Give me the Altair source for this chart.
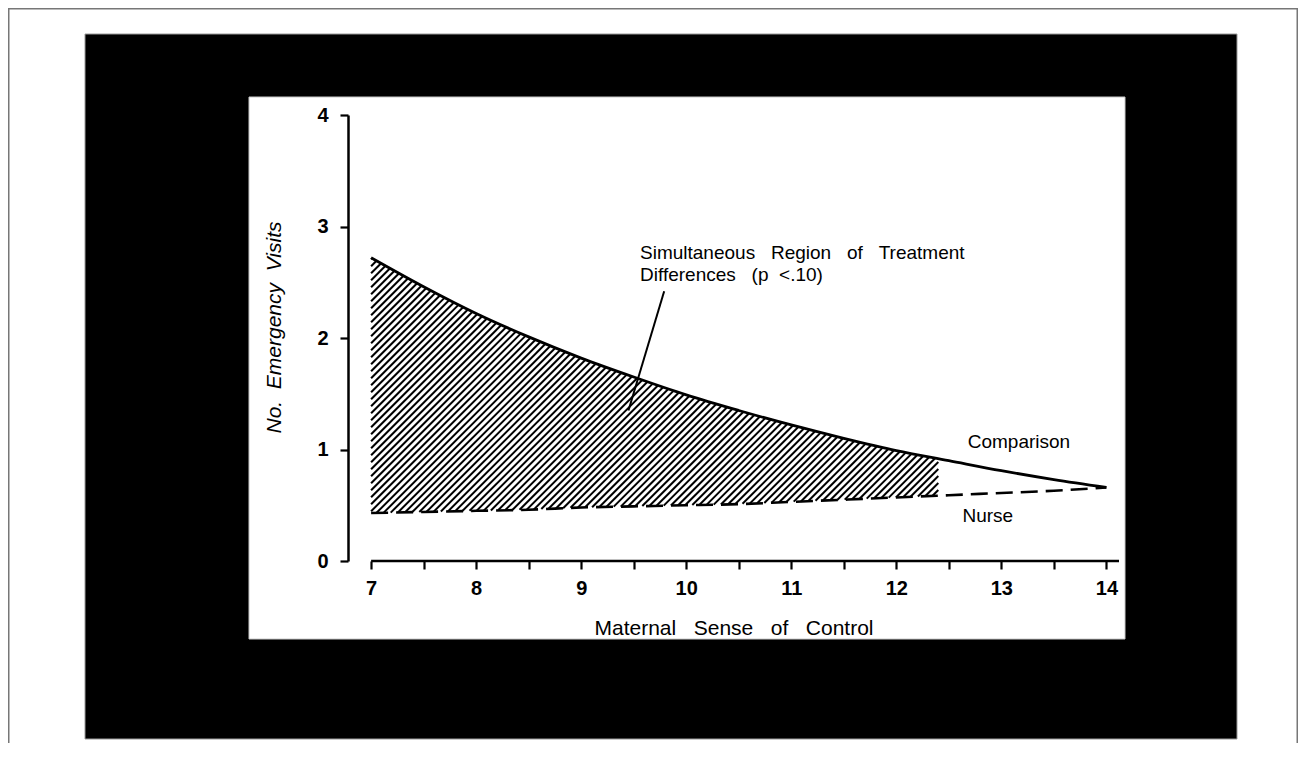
import altair as alt
import pandas as pd
import numpy as np

# ---------------- data ----------------
control = [7.0, 7.5, 8.0, 8.5, 9.0, 9.5, 10.0, 10.5, 11.0, 11.5, 12.0, 12.5, 13.0, 13.5, 14.0]
comparison = [2.72, 2.46, 2.22, 2.01, 1.82, 1.65, 1.49, 1.35, 1.22, 1.10, 0.99, 0.90, 0.81, 0.73, 0.66]
nurse = [0.43, 0.44, 0.45, 0.46, 0.48, 0.49, 0.50, 0.51, 0.53, 0.55, 0.57, 0.59, 0.61, 0.63, 0.66]

region_start = 7.0     # simultaneous region of treatment differences
region_end = 12.4

x_ticks = [7, 7.5, 8, 8.5, 9, 9.5, 10, 10.5, 11, 11.5, 12, 12.5, 13, 13.5, 14]
y_ticks = [0, 1, 2, 3, 4]

NB = "\u00a0"
x_title = f"Maternal{NB*3}Sense{NB*3}of{NB*3}Control"
y_title = f"No.{NB*2}Emergency{NB*2}Visits"

note_lines = [f"Simultaneous{NB*3}Region{NB*3}of{NB*3}Treatment",
              f"Differences{NB*3}(p{NB*2}<.10)"]
note_x = [9.56, 9.56]
note_y = [2.71, 2.51]
arrow = {"x": 9.79, "y": 2.42, "x2": 9.45, "y2": 1.35}

series_labels = ["Comparison", "Nurse"]
series_label_x = [12.68, 12.63]
series_label_y = [1.01, 0.35]

# ---------------- layout ----------------
XMIN, XMAX = 6.78, 14.12
YMIN, YMAX = 0, 4
W, H = 771, 446
PAD = {"left": 340, "top": 107, "right": 179, "bottom": 182}
FONT = "Liberation Sans"

# ---------------- hatch geometry (derived from the curves) ----------------
PX_X = W / (XMAX - XMIN)
PX_Y = H / (YMAX - YMIN)
cx = np.array(control)
Xp = (cx - XMIN) * PX_X
Up = np.array(comparison) * PX_Y
Lp = np.array(nurse) * PX_Y
Xl = (region_start - XMIN) * PX_X
Xr = (region_end - XMIN) * PX_X
grid = np.arange(Xl, Xr + 0.01, 0.2)
upper = np.interp(grid, Xp, Up)
lower = np.interp(grid, Xp, Lp)
spacing = 7.0
c_min = Xl - upper[0]
c_max = Xr - lower[-1]
segs = []
for c in np.arange(c_min + 1.5, c_max, spacing):
    yline = grid - c
    mask = (yline >= lower) & (yline <= upper)
    if mask.sum() < 2:
        continue
    xa, xb = grid[mask][0], grid[mask][-1]
    segs.append({
        "x": xa / PX_X + XMIN, "y": (xa - c) / PX_Y,
        "x2": xb / PX_X + XMIN, "y2": (xb - c) / PX_Y,
    })
hatch_df = pd.DataFrame(segs)

lines_df = pd.DataFrame({"control": control, "comparison": comparison, "nurse": nurse})
notes_df = pd.DataFrame({"x": note_x, "y": note_y, "t": note_lines})
labels_df = pd.DataFrame({"x": series_label_x, "y": series_label_y, "t": series_labels})
axis_line_df = pd.DataFrame([{"x": region_start, "x2": XMAX, "y": 0}])
arrow_df = pd.DataFrame([arrow])
one = alt.Data(values=[{"k": 1}])

xscale = alt.Scale(domain=[XMIN, XMAX], nice=False, zero=False)
yscale = alt.Scale(domain=[YMIN, YMAX], nice=False)

xaxis = alt.Axis(values=x_ticks,
                 labelExpr="datum.value % 1 === 0 ? format(datum.value, 'd') : ''",
                 domain=False, grid=False, tickSize=8, tickWidth=2.2, tickColor="black",
                 labelFont=FONT, labelFontSize=20, labelFontWeight="bold", labelColor="black",
                 labelPadding=9, labelFlush=False, labelOverlap=False,
                 title=x_title, titleFont=FONT, titleFontSize=21, titleFontWeight="normal",
                 titleColor="black", titlePadding=19, zindex=1)
yaxis = alt.Axis(values=y_ticks, format="d", domain=True, domainWidth=2.5, domainColor="black",
                 grid=False, tickSize=8, tickWidth=2.2, tickColor="black",
                 labelFont=FONT, labelFontSize=20, labelFontWeight="bold", labelColor="black",
                 labelPadding=12, labelFlush=False,
                 title=y_title, titleFont=FONT, titleFontSize=21, titleFontWeight="normal",
                 titleFontStyle="italic", titleColor="black", titlePadding=32, titleY=212,
                 zindex=1)


def X(f):
    return alt.X(f, type="quantitative", scale=xscale, axis=xaxis)


def Y(f):
    return alt.Y(f, type="quantitative", scale=yscale, axis=yaxis)


outer = alt.Chart(one).mark_rect(fill="transparent", stroke="#777777", strokeWidth=1.5).encode(
    x=alt.value(-PAD["left"] + 0.75), x2=alt.value(W + PAD["right"] - 0.75),
    y=alt.value(-PAD["top"] + 0.75), y2=alt.value(H + PAD["bottom"] + 20))
black = alt.Chart(one).mark_rect(fill="black", stroke="#9a9a9a", strokeWidth=1).encode(
    x=alt.value(-263), x2=alt.value(889), y=alt.value(-81), y2=alt.value(624))
white = alt.Chart(one).mark_rect(fill="white", stroke="#c8c8c8", strokeWidth=1).encode(
    x=alt.value(-99), x2=alt.value(777), y=alt.value(-18), y2=alt.value(524))

hatch = alt.Chart(hatch_df).mark_rule(color="black", strokeWidth=2.0).encode(
    x=X("x"), y=Y("y"), x2="x2", y2="y2")

xline = alt.Chart(axis_line_df).mark_rule(color="black", strokeWidth=2.5).encode(
    x=X("x"), x2="x2", y=Y("y"))

comp = alt.Chart(lines_df).mark_line(color="black", strokeWidth=2.8, interpolate="monotone").encode(
    x=X("control"), y=Y("comparison"))
nur = alt.Chart(lines_df).mark_line(color="black", strokeWidth=2.6, strokeDash=[17, 8],
                                    interpolate="monotone").encode(
    x=X("control"), y=Y("nurse"))

arr = alt.Chart(arrow_df).mark_rule(color="black", strokeWidth=2).encode(
    x=X("x"), y=Y("y"), x2="x2", y2="y2")

notes = alt.Chart(notes_df).mark_text(align="left", baseline="alphabetic", font=FONT,
                                      fontSize=19, color="black").encode(
    x=X("x"), y=Y("y"), text="t")
labels = alt.Chart(labels_df).mark_text(align="left", baseline="alphabetic", font=FONT,
                                        fontSize=19, color="black").encode(
    x=X("x"), y=Y("y"), text="t")

chart = alt.layer(outer, black, white, hatch, xline, comp, nur, arr, notes, labels).properties(
    width=W, height=H, padding=PAD, autosize=alt.AutoSizeParams(type="none"),
    background="white"
).configure_view(stroke=None)

chart.save("out.html", embed_options={"renderer": "svg", "actions": False})
